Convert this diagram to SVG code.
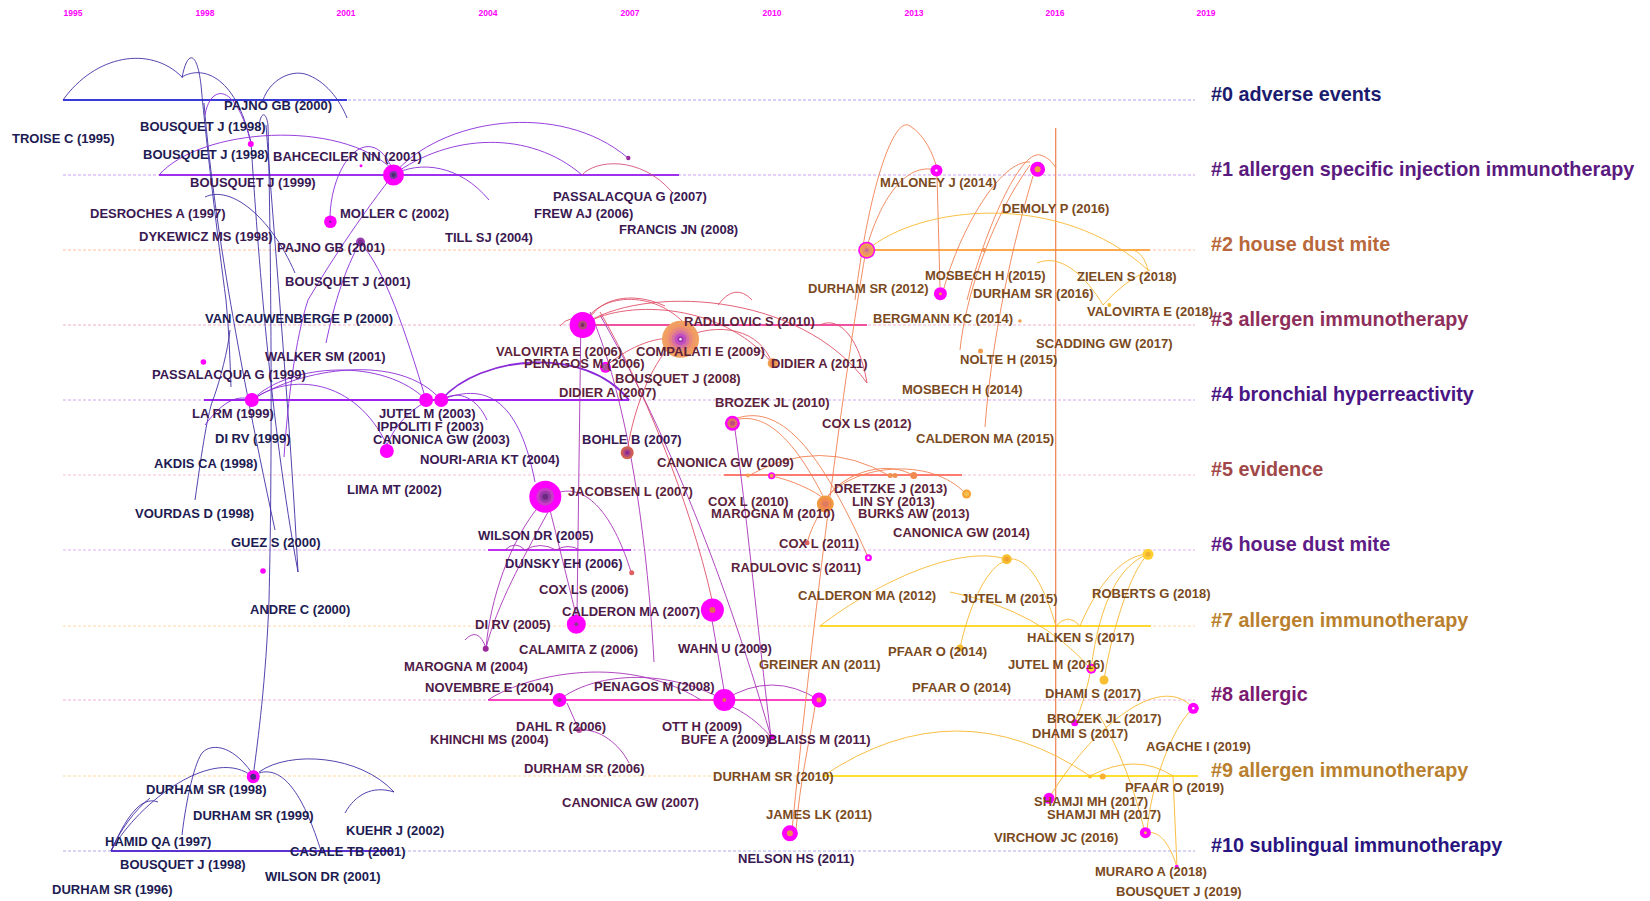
<svg xmlns="http://www.w3.org/2000/svg" width="1650" height="901" viewBox="0 0 1650 901">
<style>
.yr{font-family:"Liberation Sans",Arial,sans-serif;font-weight:bold;font-size:8.5px;fill:#ff00ff;text-anchor:middle}
.lb{font-family:"Liberation Sans",Arial,sans-serif;font-weight:bold;font-size:13px}
.cl{font-family:"Liberation Sans",Arial,sans-serif;font-weight:bold;font-size:19.8px}
.c0{fill:#201b52}.c1{fill:#3a1852}.c3{fill:#5c1f3c}.c8{fill:#4e1a48}.c2{fill:#7a4a1e}
.ln{fill:none;stroke-width:1;stroke-dasharray:3 2}
.tl{fill:none;stroke-width:2.2}
path{fill:none;stroke-width:0.9}
.cn path{stroke:#3f2fa5}.cp path{stroke:#8a2ad8}.cm path{stroke:#a832b8}.cr path{stroke:#e0506a}
.co path{stroke:#f08050}.cy path{stroke:#f8b830}
.mg{fill:#ff00ff}
</style>
<rect width="1650" height="901" fill="#ffffff"/>
<g id="years">
<text class="yr" x="73" y="16">1995</text><text class="yr" x="205" y="16">1998</text><text class="yr" x="346" y="16">2001</text><text class="yr" x="488" y="16">2004</text><text class="yr" x="630" y="16">2007</text><text class="yr" x="772" y="16">2010</text><text class="yr" x="914" y="16">2013</text><text class="yr" x="1055" y="16">2016</text><text class="yr" x="1206" y="16">2019</text>
</g>
<g id="lanes">
<line class="ln" x1="63" y1="100" x2="1195" y2="100" stroke="#a8a0f0"/>
<line class="ln" x1="63" y1="175" x2="1195" y2="175" stroke="#c8a0f0"/>
<line class="ln" x1="63" y1="250" x2="1195" y2="250" stroke="#ffc0a0"/>
<line class="ln" x1="63" y1="325" x2="1195" y2="325" stroke="#f0b0c8"/>
<line class="ln" x1="63" y1="400" x2="1195" y2="400" stroke="#d0a8f0"/>
<line class="ln" x1="63" y1="475" x2="1195" y2="475" stroke="#f8c0d0"/>
<line class="ln" x1="63" y1="550" x2="1195" y2="550" stroke="#e0b0f0"/>
<line class="ln" x1="63" y1="626" x2="1195" y2="626" stroke="#ffd8a8"/>
<line class="ln" x1="63" y1="700" x2="1195" y2="700" stroke="#f0b0d8"/>
<line class="ln" x1="63" y1="776" x2="1195" y2="776" stroke="#ffd8a0"/>
<line class="ln" x1="63" y1="851" x2="1195" y2="851" stroke="#b0a8e8"/>
<line class="tl" x1="63" y1="100" x2="347" y2="100" stroke="#3a3ad8"/>
<line class="tl" x1="159" y1="175" x2="679" y2="175" stroke="#a030f0"/>
<line class="tl" x1="867" y1="250" x2="1150" y2="250" stroke="#ffa850"/>
<line class="tl" x1="583" y1="325" x2="867" y2="325" stroke="#f050a0"/>
<line class="tl" x1="204" y1="400" x2="629" y2="400" stroke="#a020f0"/>
<line class="tl" x1="724" y1="475" x2="962" y2="475" stroke="#ff7a70"/>
<line class="tl" x1="488" y1="550" x2="631" y2="550" stroke="#c030f0"/>
<line class="tl" x1="820" y1="626" x2="1151" y2="626" stroke="#ffd830"/>
<line class="tl" x1="488" y1="700" x2="819" y2="700" stroke="#ff40c0"/>
<line class="tl" x1="823" y1="776" x2="1198" y2="776" stroke="#ffe030"/>
<line class="tl" x1="111" y1="851" x2="392" y2="851" stroke="#5a30d0"/>
</g>
<g id="connectors">
<g class="cn">
<path d="M63,100 C95,55 150,45 182,77"/>
<path d="M182,77 C200,66 235,72 251,143"/>
<path d="M182,78 C187,50 197,50 201,85 C207,150 218,240 226,300 C229,330 230,360 231,387"/>
<path d="M263,100 C270,80 290,70 305,74 C325,80 340,100 347,118"/>
<path d="M259,128 C260,112 266,110 268,125 C272,300 272,480 269,600 C266,680 258,740 253,777"/>
<path d="M251,143 C258,250 270,420 298,572"/>
<path d="M266,125 C276,260 290,420 298,572"/>
<path d="M204,103 C212,200 232,330 275,530"/>
<path d="M205,197 C230,185 270,215 295,273"/>
<path d="M195,500 C202,450 208,410 214,397 C220,380 228,350 230,330"/>
<path d="M111,851 C140,800 215,745 253,777"/>
<path d="M182,835 C186,800 195,760 203,752 C210,745 230,742 252,773"/>
<path d="M259,772 C290,750 360,755 394,792"/>
<path d="M259,773 C285,765 305,800 321,851"/>
<path d="M345,813 C355,795 372,785 394,792"/>
<path d="M111,851 C125,820 140,795 158,802"/>
<path d="M111,851 C120,830 135,810 150,798"/>
</g>
<g class="cp">
<path d="M205,115 C210,85 235,80 251,143"/>
<path d="M159,175 C200,128 340,118 393,170"/>
<path d="M393,175 C440,118 560,100 628,158"/>
<path d="M393,175 C450,133 530,130 582,175"/>
<path d="M393,175 C420,160 460,165 489,200"/>
<path d="M393,175 C350,230 320,280 308,300 C295,340 288,400 284,457"/>
<path d="M360,242 C345,270 335,300 326,343"/>
<path d="M330,216 C332,160 370,120 392,168"/>
<path d="M360,242 C385,270 405,330 426,400"/>
<path d="M252,400 C290,362 385,358 426,400"/>
<path d="M252,400 C300,368 400,352 441,400"/>
<path d="M252,400 C290,372 355,378 387,445"/>
<path d="M441,400 C460,388 478,400 487,420"/>
<path d="M387,445 C395,425 410,410 426,402"/>
<path d="M205,425 C225,398 240,395 252,400"/>
<path d="M441,400 C490,380 520,405 535,482"/>
<path d="M441,400 C480,355 585,345 629,400" style="stroke-width:1.8"/>
</g>
<g class="cm">
<path d="M486,648 C490,600 510,540 540,505"/>
<path d="M486,648 C497,605 522,560 548,512"/>
<path d="M465,640 Q478,626 486,648"/>
<path d="M550,510 C560,550 570,590 576,615"/>
<path d="M560,492 C590,485 615,520 631,572"/>
<path d="M505,550 Q515,540 525,550"/>
<path d="M525,550 Q540,541 556,550"/>
<path d="M556,550 Q568,543 580,550"/>
<path d="M581,312 L577,615"/>
<path d="M590,312 C620,380 645,500 654,662"/>
<path d="M600,315 C660,420 720,560 771,737"/>
<path d="M735,430 C745,500 760,650 771,737"/>
<path d="M712,620 L724,690"/>
<path d="M488,700 C520,678 620,650 701,700"/>
<path d="M559,700 C592,674 662,666 724,700"/>
<path d="M567,703 L579,730"/>
<path d="M579,730 C600,728 620,745 629,763"/>
<path d="M728,705 C745,712 760,724 771,737"/>
<path d="M724,700 Q772,670 819,700"/>
<path d="M582,175 C595,160 640,155 672,192" style="stroke:#d05080"/>
</g>
<g class="cr">
<path d="M583,325 C600,290 660,290 690,330"/>
<path d="M583,325 C640,285 800,290 867,383"/>
<path d="M583,325 C620,300 720,300 772,363"/>
<path d="M600,312 C640,380 690,500 712,600"/>
<path d="M560,326 Q570,314 583,322"/>
<path d="M680,339 C720,320 760,330 772,363"/>
<path d="M605,367 C630,345 660,335 680,339"/>
<path d="M627,452 C635,400 655,360 675,340"/>
<path d="M718,305 Q735,282 752,300"/>
<path d="M820,325 C840,315 860,340 867,383"/>
<path d="M590,318 C600,300 630,290 665,306"/>
</g>
<g class="co">
<path d="M792,830 C810,650 840,400 866,250"/>
<path d="M796,830 C800,780 810,740 816,700"/>
<path d="M866,250 C880,200 905,162 936,170"/>
<path d="M855,300 C870,180 895,115 910,126 C925,135 933,155 936,165"/>
<path d="M937,176 L940,287"/>
<path d="M944,288 C960,230 1000,160 1030,162"/>
<path d="M967,300 C985,230 1020,150 1040,155 C1048,157 1053,163 1056,168"/>
<path d="M985,427 C990,360 1005,270 1033,176"/>
<path d="M960,350 C965,300 990,220 1030,165"/>
<path d="M1055.7,128 L1055.7,797" style="stroke-width:1.2"/>
<path d="M732,420 C780,400 820,450 868,557"/>
<path d="M735,420 C770,410 800,450 825,500"/>
<path d="M748,476 Q820,435 890,476"/>
<path d="M772,476 C790,480 815,490 825,500"/>
<path d="M825,500 C845,470 890,460 914,476"/>
<path d="M825,500 C850,465 930,455 966,494"/>
<path d="M822,510 Q812,525 807,543"/>
</g>
<g class="cy">
<path d="M867,250 C920,205 1060,190 1148,270"/>
<path d="M1127,250 C1138,248 1145,258 1148,270"/>
<path d="M1037,263 C1060,253 1085,275 1103,305 Q1125,280 1150,270"/>
<path d="M820,626 C880,580 960,545 1006,559"/>
<path d="M1006,559 C1030,555 1045,590 1056,626"/>
<path d="M960,648 C968,610 985,570 1003,562"/>
<path d="M950,592 Q1040,610 1091,669"/>
<path d="M1080,626 C1095,590 1120,555 1148,554"/>
<path d="M1148,554 C1120,565 1100,600 1091,669"/>
<path d="M1148,554 C1130,572 1112,630 1104,680"/>
<path d="M1091,669 Q1085,700 1075,722"/>
<path d="M1049,798 C1090,730 1160,670 1193,708"/>
<path d="M1098,713 C1120,750 1135,790 1145,833"/>
<path d="M1193,708 C1170,730 1150,790 1147,832"/>
<path d="M1147,833 C1160,830 1170,845 1177,867"/>
<path d="M1173,776 L1177,867"/>
<path d="M1090,776 Q1136,752 1173,776"/>
<path d="M823,776 Q957,686 1090,776"/>
<path d="M1056,626 Q1068,612 1080,626"/>
</g>
</g>
<g id="nodes">
<g id="k1"><circle class="mg" cx="250.8" cy="144" r="3"/></g>
<g id="k2"><circle class="mg" cx="361" cy="165.7" r="1.5"/></g>
<g id="k3"><circle class="mg" cx="393.5" cy="175" r="10.5"/><circle cx="393.5" cy="175" r="4" fill="#7a3aa0"/><circle cx="393.5" cy="175" r="2" fill="#4a2a70"/></g>
<g id="k4"><circle class="mg" cx="330.4" cy="221.7" r="6.3"/><circle cx="330.4" cy="221.7" r="1" fill="#4a2a70"/></g>
<g id="k5"><circle cx="360.5" cy="242" r="4.5" fill="#9a40b0"/><circle cx="360.5" cy="242" r="2.5" fill="#7a2a90"/></g>
<g id="k6"><circle class="mg" cx="203.4" cy="362" r="2.8"/></g>
<g id="k7"><circle class="mg" cx="251.8" cy="400" r="7"/></g>
<g id="k8"><circle class="mg" cx="426.1" cy="400" r="7"/><circle class="mg" cx="441.2" cy="400" r="7"/></g>
<g id="k9"><circle class="mg" cx="386.8" cy="451" r="7"/></g>
<g id="k10"><circle class="mg" cx="545.3" cy="496.7" r="16"/><circle cx="545.3" cy="496.7" r="9" fill="#c83cc8"/><circle cx="545.3" cy="496.7" r="6" fill="#9a3aa8"/><circle cx="545.3" cy="496.7" r="3" fill="#6a2a80"/></g>
<g id="k11"><circle class="mg" cx="263" cy="571" r="2.8"/></g>
<g id="k12"><circle class="mg" cx="253.2" cy="776.7" r="6.5"/><circle cx="253.2" cy="776.7" r="3" fill="#4a2a80"/></g>
<g id="k13"><circle cx="485.7" cy="648.7" r="3" fill="#9a2a9a"/></g>
<g id="k14"><circle class="mg" cx="582.6" cy="325" r="13"/><circle cx="582.6" cy="325" r="4.5" fill="#b04a80"/><circle cx="582.6" cy="325" r="2" fill="#802a60"/></g>
<g id="k15"><circle cx="680.5" cy="339.3" r="18.5" fill="#f0a060"/><circle cx="680.5" cy="339.3" r="15" fill="#f09868"/><circle cx="680.5" cy="339.3" r="12" fill="#e8887a"/><circle cx="680.5" cy="339.3" r="9" fill="#d870a0"/><circle cx="680.5" cy="339.3" r="6" fill="#c050c0"/><circle cx="680.5" cy="339.3" r="3" fill="#a030b0"/><circle cx="680.5" cy="339.3" r="1.2" fill="#ffffff"/></g>
<g id="k16"><circle class="mg" cx="605.4" cy="367.3" r="5.5"/><circle cx="605.4" cy="367.3" r="3.5" fill="#b050a0"/></g>
<g id="k17"><circle cx="772.7" cy="363.3" r="5" fill="#f0a050"/><circle cx="772.7" cy="363.3" r="3" fill="#e88a50"/></g>
<g id="k18"><circle class="mg" cx="732.4" cy="423.3" r="7.5"/><circle cx="732.4" cy="423.3" r="5" fill="#e07060"/><circle cx="732.4" cy="423.3" r="2.5" fill="#c04a80"/></g>
<g id="k19"><circle cx="627.2" cy="452.7" r="6.5" fill="#d06050"/><circle cx="627.2" cy="452.7" r="4" fill="#b04a80"/><circle cx="627.2" cy="452.7" r="2" fill="#8a2a90"/></g>
<g id="k20"><circle cx="748" cy="475.5" r="2" fill="#f0a050"/><circle class="mg" cx="771.6" cy="475.7" r="3.5"/><circle cx="771.6" cy="475.7" r="2" fill="#f0a050"/><circle cx="890.2" cy="475.5" r="2.5" fill="#f09050"/><circle cx="895" cy="475.5" r="2.5" fill="#f09050"/><circle cx="913.7" cy="475.5" r="3.5" fill="#f08a50"/></g>
<g id="k21"><circle cx="966.6" cy="494" r="4.5" fill="#f8a030"/><circle cx="966.6" cy="494" r="2.5" fill="#f0c050"/></g>
<g id="k22"><circle cx="825.3" cy="504" r="8.5" fill="#f09a40"/><circle cx="825.3" cy="504" r="6" fill="#f08a50"/><circle cx="825.3" cy="504" r="3" fill="#e07a60"/></g>
<g id="k23"><circle cx="807" cy="542.7" r="2.5" fill="#e06060"/></g>
<g id="k24"><circle class="mg" cx="868.4" cy="557.7" r="3.5"/><circle cx="868.4" cy="557.7" r="1.2" fill="#ffffff"/></g>
<g id="k25"><circle cx="1006.7" cy="559.3" r="5" fill="#f8c030"/><circle cx="1006.7" cy="559.3" r="2.5" fill="#f0a030"/></g>
<g id="k26"><circle cx="1148" cy="554.3" r="5.5" fill="#ffd030"/><circle cx="1148" cy="554.3" r="2.5" fill="#f0b030"/></g>
<g id="k27"><circle cx="631.7" cy="572.7" r="2.5" fill="#e06060"/></g>
<g id="k28"><circle class="mg" cx="712.4" cy="610" r="11.5"/><circle cx="712.4" cy="610" r="3" fill="#e07050"/></g>
<g id="k29"><circle class="mg" cx="576.3" cy="624.3" r="9.5"/><circle cx="576.3" cy="624.3" r="2" fill="#8a3a90"/></g>
<g id="k30"><circle class="mg" cx="559.5" cy="700" r="7"/><circle cx="559.5" cy="700" r="2" fill="#8a3a90"/><circle class="mg" cx="724.3" cy="700" r="11"/><circle cx="724.3" cy="700" r="2" fill="#e07050"/><circle class="mg" cx="819" cy="700" r="7.5"/><circle cx="819" cy="700" r="2.5" fill="#f09050"/></g>
<g id="k31"><circle cx="579.1" cy="730" r="3" fill="#c050a0"/></g>
<g id="k32"><circle class="mg" cx="772" cy="737.3" r="3"/></g>
<g id="k33"><circle class="mg" cx="789.9" cy="833.3" r="8"/><circle cx="789.9" cy="833.3" r="3" fill="#f09050"/></g>
<g id="k34"><circle class="mg" cx="936.4" cy="170.5" r="6"/><circle cx="936.4" cy="170.5" r="1.2" fill="#ffffff"/></g>
<g id="k35"><circle class="mg" cx="1037.6" cy="169.3" r="7.5"/><circle cx="1037.6" cy="169.3" r="3" fill="#f0a040"/></g>
<g id="k36"><circle class="mg" cx="866.7" cy="250.2" r="8.5"/><circle cx="866.7" cy="250.2" r="7" fill="#f0a050"/><circle cx="866.7" cy="250.2" r="4.5" fill="#e89070"/><circle cx="866.7" cy="250.2" r="2" fill="#d0708a"/></g>
<g id="k37"><circle class="mg" cx="940.4" cy="293.7" r="6.5"/><circle cx="940.4" cy="293.7" r="1.5" fill="#f0a040"/></g>
<g id="k38"><circle class="mg" cx="1091.3" cy="668.7" r="5"/><circle cx="1091.3" cy="668.7" r="3" fill="#ffd030"/></g>
<g id="k39"><circle cx="1104" cy="680" r="4.5" fill="#f8c030"/></g>
<g id="k40"><circle class="mg" cx="1074.7" cy="722.7" r="3.5"/></g>
<g id="k41"><circle class="mg" cx="1193.3" cy="708.3" r="5.5"/><circle cx="1193.3" cy="708.3" r="1.2" fill="#ffffff"/></g>
<g id="k42"><circle class="mg" cx="1049" cy="798.3" r="5.5"/></g>
<g id="k43"><circle class="mg" cx="1145.4" cy="832.7" r="5.5"/><circle cx="1145.4" cy="832.7" r="1.5" fill="#f0c050"/></g>
<g id="k44"><circle class="mg" cx="1176.7" cy="866.7" r="2"/></g>
<g id="k45"><circle cx="960" cy="648" r="3.5" fill="#f8c030"/></g>
<g id="k46"><circle cx="1090" cy="776.5" r="2" fill="#f8c030"/><circle cx="1102.7" cy="776.5" r="3" fill="#f8b030"/></g>
<g id="k47"><circle cx="1019.9" cy="321" r="1.8" fill="#f0a050"/><circle cx="980.5" cy="351" r="2.5" fill="#f0a050"/><circle cx="1109.3" cy="305" r="2" fill="#f8c030"/><circle cx="984" cy="250" r="2" fill="#f09050"/></g>
<g id="k48"><circle cx="628.3" cy="158" r="2.2" fill="#9a2aa0"/></g>
</g>
<g id="labels">
<text class="lb c0" x="224" y="110">PAJNO GB (2000)</text>
<text class="lb c0" x="140" y="131">BOUSQUET J (1998)</text>
<text class="lb c0" x="12" y="143">TROISE C (1995)</text>
<text class="lb c0" x="143" y="159">BOUSQUET J (1998)</text>
<text class="lb c0" x="205" y="323">VAN CAUWENBERGE P (2000)</text>
<text class="lb c0" x="215" y="443">DI RV (1999)</text>
<text class="lb c0" x="154" y="468">AKDIS CA (1998)</text>
<text class="lb c0" x="135" y="518">VOURDAS D (1998)</text>
<text class="lb c0" x="231" y="547">GUEZ S (2000)</text>
<text class="lb c0" x="250" y="614">ANDRE C (2000)</text>
<text class="lb c0" x="146" y="794">DURHAM SR (1998)</text>
<text class="lb c0" x="193" y="820">DURHAM SR (1999)</text>
<text class="lb c0" x="346" y="835">KUEHR J (2002)</text>
<text class="lb c0" x="105" y="846">HAMID QA (1997)</text>
<text class="lb c0" x="290" y="856">CASALE TB (2001)</text>
<text class="lb c0" x="120" y="869">BOUSQUET J (1998)</text>
<text class="lb c0" x="265" y="881">WILSON DR (2001)</text>
<text class="lb c0" x="52" y="894">DURHAM SR (1996)</text>
<text class="lb c1" x="273" y="161">BAHCECILER NN (2001)</text>
<text class="lb c1" x="190" y="187">BOUSQUET J (1999)</text>
<text class="lb c1" x="90" y="218">DESROCHES A (1997)</text>
<text class="lb c1" x="340" y="218">MOLLER C (2002)</text>
<text class="lb c1" x="139" y="241">DYKEWICZ MS (1998)</text>
<text class="lb c1" x="445" y="242">TILL SJ (2004)</text>
<text class="lb c1" x="277" y="252">PAJNO GB (2001)</text>
<text class="lb c1" x="285" y="286">BOUSQUET J (2001)</text>
<text class="lb c1" x="553" y="201">PASSALACQUA G (2007)</text>
<text class="lb c1" x="534" y="218">FREW AJ (2006)</text>
<text class="lb c1" x="619" y="234">FRANCIS JN (2008)</text>
<text class="lb c1" x="265" y="361">WALKER SM (2001)</text>
<text class="lb c1" x="152" y="379">PASSALACQUA G (1999)</text>
<text class="lb c1" x="192" y="418">LA RM (1999)</text>
<text class="lb c1" x="379" y="418">JUTEL M (2003)</text>
<text class="lb c1" x="377" y="431">IPPOLITI F (2003)</text>
<text class="lb c1" x="373" y="444">CANONICA GW (2003)</text>
<text class="lb c1" x="420" y="464">NOURI-ARIA KT (2004)</text>
<text class="lb c1" x="347" y="494">LIMA MT (2002)</text>
<text class="lb c1" x="582" y="444">BOHLE B (2007)</text>
<text class="lb c1" x="478" y="540">WILSON DR (2005)</text>
<text class="lb c1" x="505" y="568">DUNSKY EH (2006)</text>
<text class="lb c1" x="738" y="863">NELSON HS (2011)</text>
<text class="lb c3" x="496" y="356">VALOVIRTA E (2006)</text>
<text class="lb c3" x="524" y="368">PENAGOS M (2006)</text>
<text class="lb c3" x="636" y="356">COMPALATI E (2009)</text>
<text class="lb c3" x="684" y="326">RADULOVIC S (2010)</text>
<text class="lb c3" x="615" y="383">BOUSQUET J (2008)</text>
<text class="lb c3" x="559" y="397">DIDIER A (2007)</text>
<text class="lb c3" x="771" y="368">DIDIER A (2011)</text>
<text class="lb c3" x="715" y="407">BROZEK JL (2010)</text>
<text class="lb c3" x="822" y="428">COX LS (2012)</text>
<text class="lb c3" x="657" y="467">CANONICA GW (2009)</text>
<text class="lb c3" x="568" y="496">JACOBSEN L (2007)</text>
<text class="lb c3" x="708" y="506">COX L (2010)</text>
<text class="lb c3" x="711" y="518">MAROGNA M (2010)</text>
<text class="lb c3" x="834" y="493">DRETZKE J (2013)</text>
<text class="lb c3" x="852" y="506">LIN SY (2013)</text>
<text class="lb c3" x="858" y="518">BURKS AW (2013)</text>
<text class="lb c3" x="893" y="537">CANONICA GW (2014)</text>
<text class="lb c3" x="779" y="548">COX L (2011)</text>
<text class="lb c3" x="731" y="572">RADULOVIC S (2011)</text>
<text class="lb c8" x="539" y="594">COX LS (2006)</text>
<text class="lb c8" x="562" y="616">CALDERON MA (2007)</text>
<text class="lb c8" x="475" y="629">DI RV (2005)</text>
<text class="lb c8" x="519" y="654">CALAMITA Z (2006)</text>
<text class="lb c8" x="404" y="671">MAROGNA M (2004)</text>
<text class="lb c8" x="678" y="653">WAHN U (2009)</text>
<text class="lb c8" x="425" y="692">NOVEMBRE E (2004)</text>
<text class="lb c8" x="594" y="691">PENAGOS M (2008)</text>
<text class="lb c8" x="516" y="731">DAHL R (2006)</text>
<text class="lb c8" x="662" y="731">OTT H (2009)</text>
<text class="lb c8" x="430" y="744">KHINCHI MS (2004)</text>
<text class="lb c8" x="681" y="744">BUFE A (2009)</text>
<text class="lb c8" x="768" y="744">BLAISS M (2011)</text>
<text class="lb c8" x="524" y="773">DURHAM SR (2006)</text>
<text class="lb c8" x="562" y="807">CANONICA GW (2007)</text>
<text class="lb c2" x="880" y="187">MALONEY J (2014)</text>
<text class="lb c2" x="1002" y="213">DEMOLY P (2016)</text>
<text class="lb c2" x="925" y="280">MOSBECH H (2015)</text>
<text class="lb c2" x="808" y="293">DURHAM SR (2012)</text>
<text class="lb c2" x="973" y="298">DURHAM SR (2016)</text>
<text class="lb c2" x="1077" y="281">ZIELEN S (2018)</text>
<text class="lb c2" x="1087" y="316">VALOVIRTA E (2018)</text>
<text class="lb c2" x="873" y="323">BERGMANN KC (2014)</text>
<text class="lb c2" x="1036" y="348">SCADDING GW (2017)</text>
<text class="lb c2" x="960" y="364">NOLTE H (2015)</text>
<text class="lb c2" x="902" y="394">MOSBECH H (2014)</text>
<text class="lb c2" x="916" y="443">CALDERON MA (2015)</text>
<text class="lb c2" x="798" y="600">CALDERON MA (2012)</text>
<text class="lb c2" x="961" y="603">JUTEL M (2015)</text>
<text class="lb c2" x="1092" y="598">ROBERTS G (2018)</text>
<text class="lb c2" x="1027" y="642">HALKEN S (2017)</text>
<text class="lb c2" x="888" y="656">PFAAR O (2014)</text>
<text class="lb c2" x="759" y="669">GREINER AN (2011)</text>
<text class="lb c2" x="1008" y="669">JUTEL M (2016)</text>
<text class="lb c2" x="912" y="692">PFAAR O (2014)</text>
<text class="lb c2" x="1045" y="698">DHAMI S (2017)</text>
<text class="lb c2" x="1047" y="723">BROZEK JL (2017)</text>
<text class="lb c2" x="1032" y="738">DHAMI S (2017)</text>
<text class="lb c2" x="1146" y="751">AGACHE I (2019)</text>
<text class="lb c2" x="713" y="781">DURHAM SR (2010)</text>
<text class="lb c2" x="1125" y="792">PFAAR O (2019)</text>
<text class="lb c2" x="1034" y="806">SHAMJI MH (2017)</text>
<text class="lb c2" x="766" y="819">JAMES LK (2011)</text>
<text class="lb c2" x="1047" y="819">SHAMJI MH (2017)</text>
<text class="lb c2" x="994" y="842">VIRCHOW JC (2016)</text>
<text class="lb c2" x="1095" y="876">MURARO A (2018)</text>
<text class="lb c2" x="1116" y="896">BOUSQUET J (2019)</text>
</g>
<g id="clusters">
<text class="cl" x="1211" y="101" fill="#1c1c6e">#0 adverse events</text>
<text class="cl" x="1211" y="176" fill="#5a1a80">#1 allergen specific injection immunotherapy</text>
<text class="cl" x="1211" y="251" fill="#b8683a">#2 house dust mite</text>
<text class="cl" x="1211" y="326" fill="#8e2e5a">#3 allergen immunotherapy</text>
<text class="cl" x="1211" y="401" fill="#4a1585">#4 bronchial hyperreactivity</text>
<text class="cl" x="1211" y="476" fill="#a04848">#5 evidence</text>
<text class="cl" x="1211" y="551" fill="#5e1a85">#6 house dust mite</text>
<text class="cl" x="1211" y="627" fill="#b8802e">#7 allergen immunotherapy</text>
<text class="cl" x="1211" y="701" fill="#7a1a70">#8 allergic</text>
<text class="cl" x="1211" y="777" fill="#b8802e">#9 allergen immunotherapy</text>
<text class="cl" x="1211" y="852" fill="#2a1580">#10 sublingual immunotherapy</text>
</g>
</svg>
